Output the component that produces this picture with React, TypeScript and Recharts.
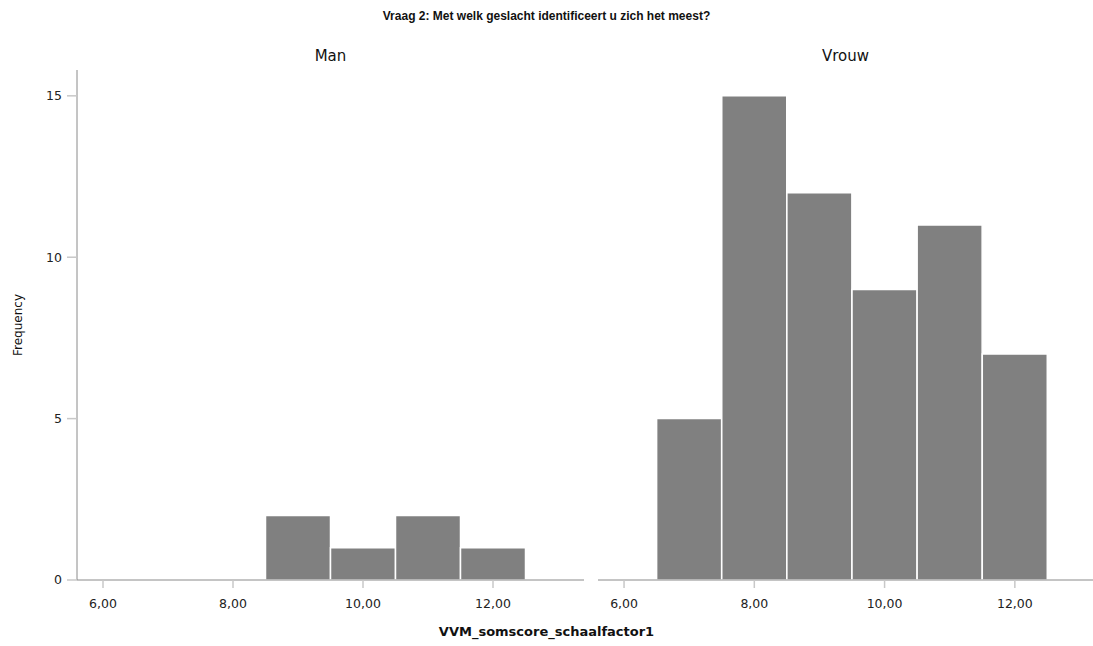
import { Bar, BarChart, XAxis, YAxis } from "recharts";

const title = "Vraag 2: Met welk geslacht identificeert u zich het meest?";
const xLabel = "VVM_somscore_schaalfactor1";
const yLabel = "Frequency";

const manScores = [9, 10, 11, 12];
const manCounts = [2, 1, 2, 1];
const vrouwScores = [7, 8, 9, 10, 11, 12];
const vrouwCounts = [5, 15, 12, 9, 11, 7];
const xTicks = [6, 8, 10, 12];
const yTicks = [0, 5, 10, 15];

const manData = manScores.map((score, i) => ({ score, count: manCounts[i] }));
const vrouwData = vrouwScores.map((score, i) => ({ score, count: vrouwCounts[i] }));

const font = "'DejaVu Sans', sans-serif";
const fmt = (v: number) => v.toFixed(2).replace(".", ",");
const tickStyle = { fill: "#222", fontSize: 12.5, fontFamily: font };

function Panel({ data, showY, width, xMax }: { data: any[]; showY: boolean; width: number; xMax: number }) {
  return (
    <BarChart
      width={width}
      height={646}
      data={data}
      margin={{ top: 70, right: 0, bottom: 0, left: 0 }}
      barCategoryGap={0}
      barGap={0}
    >
      <XAxis
        dataKey="score"
        type="number"
        domain={[5.6, xMax]}
        allowDataOverflow
        ticks={xTicks}
        tickFormatter={fmt}
        height={66}
        stroke="#8a8a8a"
        tickLine={{ stroke: "#c8c8c8", strokeWidth: 1.5 }}
        tickSize={8}
        tickMargin={11}
        tick={tickStyle}
      />
      <YAxis
        type="number"
        domain={[0, 15.8]}
        ticks={yTicks}
        width={showY ? 77 : 0}
        stroke="#8a8a8a"
        tick={showY ? tickStyle : false}
        tickLine={showY ? { stroke: "#c8c8c8", strokeWidth: 1.5 } : false}
        tickSize={10}
        tickMargin={5}
      />
      <Bar dataKey="count" fill="#808080" stroke="#fff" strokeWidth={1.5} isAnimationActive={false} />
    </BarChart>
  );
}

export default function App() {
  return (
    <div style={{ position: "absolute", left: 0, top: 0, width: 1093, height: 646, background: "#fff", fontFamily: font, overflow: "hidden" }}>
      <div style={{ position: "absolute", left: 0, top: 0 }}>
        <Panel data={manData} showY width={584} xMax={13.4} />
      </div>
      <div style={{ position: "absolute", left: 598, top: 0 }}>
        <Panel data={vrouwData} showY={false} width={495} xMax={13.2} />
      </div>
      <div
        style={{
          position: "absolute",
          top: 9,
          left: 0,
          width: 1093,
          textAlign: "center",
          fontSize: 12,
          fontWeight: "bold",
          color: "#111",
          fontFamily: "'Liberation Sans', Arial, sans-serif",
        }}
      >
        {title}
      </div>
      <div style={{ position: "absolute", top: 47, left: 77, width: 507, textAlign: "center", fontSize: 15, color: "#111" }}>Man</div>
      <div style={{ position: "absolute", top: 47, left: 598, width: 495, textAlign: "center", fontSize: 15, color: "#111" }}>Vrouw</div>
      <div style={{ position: "absolute", top: 624, left: 0, width: 1093, textAlign: "center", fontSize: 13, fontWeight: "bold", color: "#111" }}>
        {xLabel}
      </div>
      <div
        style={{
          position: "absolute",
          left: 18,
          top: 325,
          transform: "translate(-50%, -50%) rotate(-90deg)",
          fontSize: 12,
          color: "#111",
          whiteSpace: "nowrap",
        }}
      >
        {yLabel}
      </div>
    </div>
  );
}
